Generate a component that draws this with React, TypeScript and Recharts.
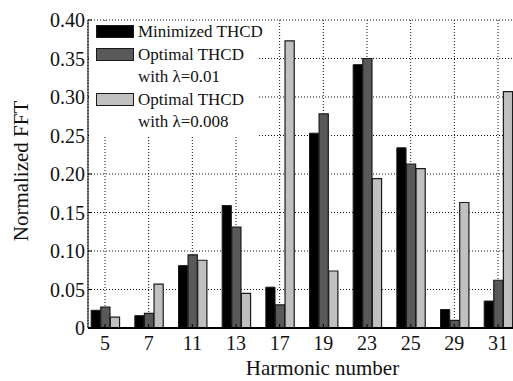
import { BarChart, Bar, XAxis, YAxis, CartesianGrid } from 'recharts';

const harmonics = ['5', '7', '11', '13', '17', '19', '23', '25', '29', '31'];
const minimizedThcd = [0.023, 0.016, 0.081, 0.159, 0.053, 0.253, 0.342, 0.234, 0.024, 0.035];
const optimalL001 = [0.027, 0.019, 0.095, 0.131, 0.030, 0.278, 0.350, 0.213, 0.010, 0.062];
const optimalL0008 = [0.014, 0.057, 0.088, 0.045, 0.373, 0.074, 0.194, 0.207, 0.163, 0.307];
const yTicks = [0, 0.05, 0.1, 0.15, 0.2, 0.25, 0.3, 0.35, 0.4];

const data = harmonics.map((h, i) => ({
  idx: i,
  h,
  minimized: minimizedThcd[i],
  opt001: optimalL001[i],
  opt0008: optimalL0008[i],
}));
const xTicks = harmonics.map((_, i) => i);

const FONT = 'Liberation Serif, Tinos, Times, Nimbus Roman, DejaVu Serif, serif';
const C_BLACK = '#000000';
const C_DARK = '#595959';
const C_LIGHT = '#c0c0c0';
const EDGE = '#1a1a1a';

const legendItems = [
  { color: C_BLACK, lines: ['Minimized THCD'] },
  { color: C_DARK, lines: ['Optimal THCD', 'with \u03bb=0.01'] },
  { color: C_LIGHT, lines: ['Optimal THCD', 'with \u03bb=0.008'] },
];

function ChartLegend() {
  return (
    <div
      style={{
        position: 'absolute',
        left: 89,
        top: 21,
        width: 169,
        height: 116,
        background: '#fff',
        fontFamily: FONT,
        fontSize: 17,
        color: '#111',
      }}
    >
      {legendItems.map((it, k) => (
        <div key={k} style={{ display: 'flex', alignItems: 'flex-start', marginTop: k === 0 ? 3 : 4 }}>
          <div
            style={{
              width: 36,
              height: 11,
              marginLeft: 7,
              marginTop: 1,
              background: it.color,
              border: `1px solid ${EDGE}`,
              flex: 'none',
            }}
          />
          <div style={{ marginLeft: 4, lineHeight: '22px', whiteSpace: 'nowrap' }}>
            {it.lines.map((l, j) => (
              <div key={j} style={j === 0 ? { marginTop: -3 } : undefined}>{l}</div>
            ))}
          </div>
        </div>
      ))}
    </div>
  );
}

export default function App() {
  return (
    <div
      style={{
        position: 'fixed',
        left: 0,
        top: 0,
        width: 513,
        height: 381,
        overflow: 'hidden',
        background: '#fff',
        fontFamily: FONT,
      }}
    >
      <BarChart
        width={530}
        height={381}
        data={data}
        margin={{ top: 20, right: 15, bottom: 0, left: 0 }}
        barGap={0.4}
        barCategoryGap={0}
        style={{ fontFamily: FONT }}
      >
        <CartesianGrid stroke="#111" strokeDasharray="1 2" />
        <XAxis
          dataKey="idx"
          type="number"
          domain={[-0.389, 9.389]}
          ticks={xTicks}
          interval={0}
          tickFormatter={(v: number) => harmonics[v] ?? ''}
          height={53}
          tickSize={-4}
          tickMargin={12}
          tick={{ fill: '#111', fontSize: 20, fontFamily: FONT }}
          axisLine={{ stroke: '#000', strokeWidth: 2 }}
          tickLine={{ stroke: '#000' }}
          allowDataOverflow
          label={{
            content: (p: any) => {
              const vb = p.viewBox;
              return (
                <text
                  x={vb.x + vb.width / 2 + 21}
                  y={vb.y + 47}
                  textAnchor="middle"
                  fontSize={21}
                  fontFamily={FONT}
                  fill="#111"
                >
                  Harmonic number
                </text>
              );
            },
          }}
        />
        <XAxis
          xAxisId="top"
          orientation="top"
          dataKey="idx"
          type="number"
          domain={[-0.389, 9.389]}
          ticks={xTicks}
          height={0}
          tickSize={-4}
          tick={false}
          axisLine={{ stroke: '#000' }}
          tickLine={{ stroke: '#000' }}
          allowDataOverflow
        />
        <YAxis
          width={88}
          domain={[0, 0.4]}
          ticks={yTicks}
          interval={0}
          tickFormatter={(v: number) => (v === 0 ? '0' : v.toFixed(2))}
          tickSize={-4}
          tickMargin={7}
          tick={{ fill: '#111', fontSize: 20, fontFamily: FONT }}
          axisLine={{ stroke: '#000' }}
          tickLine={{ stroke: '#000' }}
          label={{
            content: (p: any) => {
              const vb = p.viewBox;
              const cx = vb.x + 21;
              const cy = vb.y + vb.height / 2 - 3;
              return (
                <text
                  x={cx}
                  y={cy}
                  transform={`rotate(-90 ${cx} ${cy})`}
                  textAnchor="middle"
                  dominantBaseline="central"
                  fontSize={21}
                  fontFamily={FONT}
                  fill="#111"
                >
                  Normalized FFT
                </text>
              );
            },
          }}
        />
        <Bar dataKey="minimized" fill={C_BLACK} stroke={EDGE} strokeWidth={1} barSize={9.2} isAnimationActive={false} />
        <Bar dataKey="opt001" fill={C_DARK} stroke={EDGE} strokeWidth={1.2} barSize={9.2} isAnimationActive={false} />
        <Bar dataKey="opt0008" fill={C_LIGHT} stroke={EDGE} strokeWidth={1.2} barSize={9.2} isAnimationActive={false} />
      </BarChart>
      <ChartLegend />
    </div>
  );
}
